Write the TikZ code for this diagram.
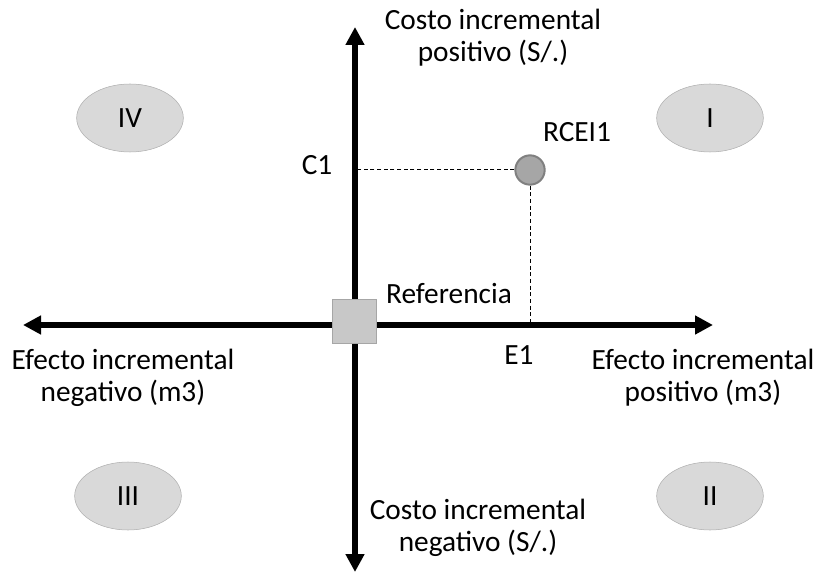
\documentclass[tikz,border=0pt]{standalone}
\usepackage{fontspec}
\setmainfont{Carlito}
\usetikzlibrary{arrows.meta,shapes.geometric}
\definecolor{ovalfill}{HTML}{D9D9D9}
\definecolor{ovalline}{HTML}{B0B0B0}
\definecolor{dotfill}{HTML}{A6A6A6}
\definecolor{dotline}{HTML}{808080}
\definecolor{boxfill}{HTML}{C8C8C8}
\definecolor{boxline}{HTML}{A6A6A6}
\tikzset{
	axis/.style={line width=4.5pt,
			{Triangle[length=13.5pt,width=13.5pt]}-{Triangle[length=13.5pt,width=13.5pt]}},
	quadrant/.style={ellipse, draw=ovalline, fill=ovalfill,
			minimum width=80pt, minimum height=51pt, inner sep=0pt},
	refbox/.style={rectangle, draw=boxline, fill=boxfill, minimum size=33pt},
	dot/.style={circle, draw=dotline, fill=dotfill, line width=1.5pt, minimum size=22pt},
	guide/.style={dash pattern=on 3pt off 2pt, line width=0.75pt},
	axislabel/.style={inner sep=0pt, align=center}
}

\begin{document}
\begin{tikzpicture}[x=0.75pt, y=-0.75pt, font=\fontsize{22}{24}\selectfont]
	\useasboundingbox (0,0) rectangle (816,573);

	\coordinate (top) at (355,27);
	\coordinate (bot) at (355,572);
	\coordinate (left) at (23,325);
	\coordinate (right) at (713,325);
	\draw[axis] (left) -- (right);
	\draw[axis] (bot) -- (top);

	\foreach \q/\x/\y in {I/710/118, II/710/496, III/128/496, IV/130/118}
		\node[quadrant] (q\q) at (\x,\y) {\q};

	\node[refbox] (ref) at (354,321) {};
	\node[dot] (rcei) at (530,170) {};
	\coordinate (c1) at (358,170);
	\coordinate (e1) at (530,323);
	\draw[guide] (rcei) -- (c1);
	\draw[guide] (rcei) -- (e1);

	\node[anchor=base] (c1lbl) at (317,175) {C1};
	\node[anchor=base] (rceilbl) at (577,142) {RCEI1};
	\node[anchor=base] (reflbl) at (449,303) {Referencia};
	\node[anchor=base] (e1lbl) at (519,364) {E1};

	\node[axislabel] (costpos) at (493,38) {Costo incremental\\positivo (S/.)};
	\node[axislabel] (costneg) at (478,528) {Costo incremental\\negativo (S/.)};
	\node[axislabel] (efneg) at (123,378) {Efecto incremental\\negativo (m3)};
	\node[axislabel] (efpos) at (703,378) {Efecto incremental\\positivo (m3)};
\end{tikzpicture}
\end{document}
